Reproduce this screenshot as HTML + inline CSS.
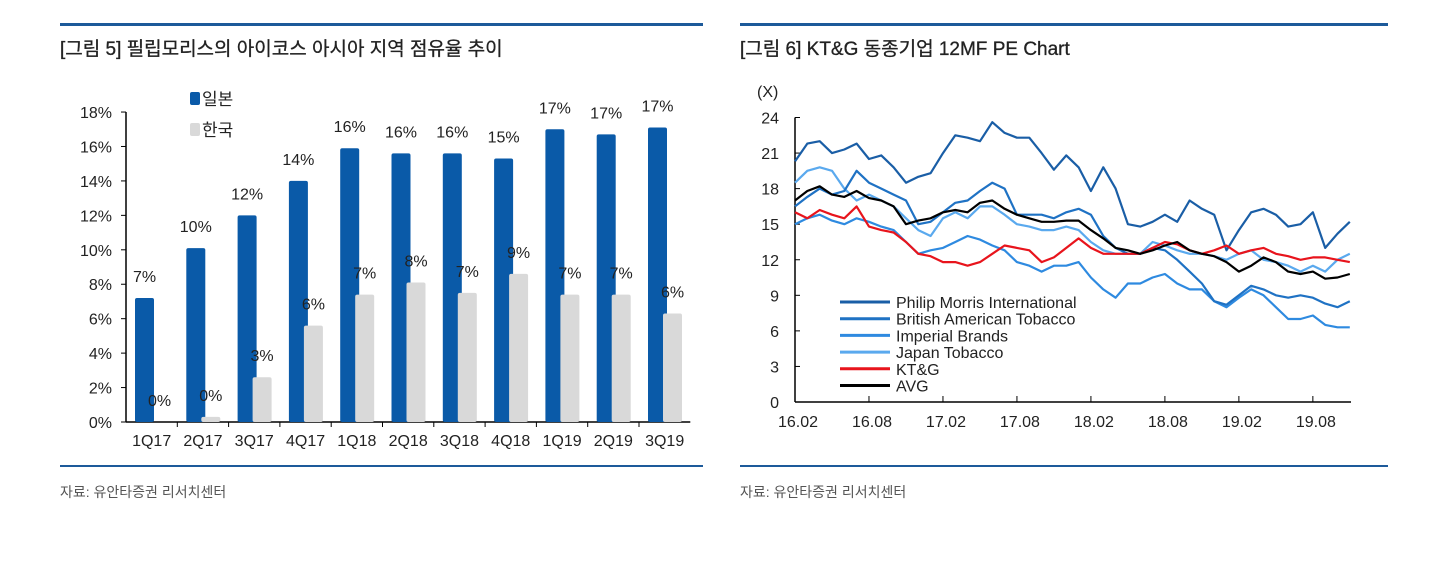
<!DOCTYPE html>
<html><head><meta charset="utf-8">
<style>
body{margin:0;width:1441px;height:574px;background:#fff;overflow:hidden;font-family:"Liberation Sans","Noto Sans CJK KR",sans-serif;}
svg text{font-family:"Liberation Sans","Noto Sans CJK KR",sans-serif;}
</style></head>
<body>
<svg width="1441" height="574" xmlns="http://www.w3.org/2000/svg">
<g>
<rect x="60" y="23" width="643" height="3" fill="#1d5a9a"/>
<text x="60" y="55" font-size="19" fill="#222" stroke="#222" stroke-width="0.3">[그림 5] 필립모리스의 아이코스 아시아 지역 점유율 추이</text>
<rect x="60" y="465" width="643" height="2" fill="#1d5a9a"/>
<text x="60" y="497" font-size="14" fill="#555">자료: 유안타증권 리서치센터</text>
<g id="barchart"></g>
</g>
<g>
<rect x="740" y="23" width="648" height="3" fill="#1d5a9a"/>
<text x="740" y="55" font-size="19" fill="#222" stroke="#222" stroke-width="0.3">[그림 6] KT&amp;G 동종기업 12MF PE Chart</text>
<rect x="740" y="465" width="648" height="2" fill="#1d5a9a"/>
<text x="740" y="497" font-size="14" fill="#555">자료: 유안타증권 리서치센터</text>
<g id="linechart"></g>
</g>
</svg>
<script>
const NS="http://www.w3.org/2000/svg";
function mk(tag,attrs,parent,txt){const e=document.createElementNS(NS,tag);for(const k in attrs)e.setAttribute(k,attrs[k]);if(txt!==undefined)e.textContent=txt;parent.appendChild(e);return e;}

// ---- Bar chart data ----
const barCategories=["1Q17","2Q17","3Q17","4Q17","1Q18","2Q18","3Q18","4Q18","1Q19","2Q19","3Q19"];
const japanShare=[7.2,10.1,12.0,14.0,15.9,15.6,15.6,15.3,17.0,16.7,17.1];
const koreaShare=[0,0.3,2.6,5.6,7.4,8.1,7.5,8.6,7.4,7.4,6.3];
const japanLabels=["7%","10%","12%","14%","16%","16%","16%","15%","17%","17%","17%"];
const koreaLabels=["0%","0%","3%","6%","7%","8%","7%","9%","7%","7%","6%"];
const barTicks=[0,2,4,6,8,10,12,14,16,18];

// ---- Line chart data (monthly, 16.02 .. 19.11) ----
const pmi=[20.3,21.8,22.0,21.0,21.3,21.8,20.5,20.8,19.8,18.5,19.0,19.3,21.0,22.5,22.3,22.0,23.6,22.7,22.3,22.3,21.0,19.6,20.8,19.8,17.8,19.8,18.0,15.0,14.8,15.2,15.8,15.2,17.0,16.3,15.8,12.8,14.5,16.0,16.3,15.8,14.8,15.0,16.0,13.0,14.2,15.2];
const bat=[16.5,17.3,18.0,17.5,17.8,19.5,18.5,18.0,17.5,17.0,15.0,15.2,16.0,16.8,17.0,17.8,18.5,18.0,15.8,15.8,15.8,15.5,16.0,16.3,15.8,14.0,13.0,12.5,12.5,13.0,12.8,12.0,11.0,10.0,8.5,8.2,9.0,9.8,9.5,9.0,8.8,9.0,8.8,8.3,8.0,8.5];
const imperial=[15.0,15.5,15.8,15.3,15.0,15.5,15.2,14.8,14.5,13.5,12.5,12.8,13.0,13.5,14.0,13.7,13.2,12.8,11.8,11.5,11.0,11.5,11.5,11.8,10.5,9.5,8.8,10.0,10.0,10.5,10.8,10.0,9.5,9.5,8.5,8.0,8.8,9.5,9.0,8.0,7.0,7.0,7.3,6.5,6.3,6.3];
const japanTob=[18.5,19.5,19.8,19.5,18.0,17.0,17.5,17.0,16.5,15.5,14.5,14.0,15.5,16.0,15.5,16.5,16.5,15.8,15.0,14.8,14.5,14.5,14.8,14.5,13.5,12.8,12.5,12.5,12.5,13.5,13.2,12.8,12.5,12.5,12.3,12.0,12.5,12.8,12.0,11.8,11.5,11.0,11.5,11.0,12.0,12.5];
const ktg=[16.0,15.5,16.2,15.8,15.5,16.5,14.8,14.5,14.3,13.5,12.5,12.3,11.8,11.8,11.5,11.8,12.5,13.2,13.0,12.8,11.8,12.2,13.0,13.8,13.0,12.5,12.5,12.5,12.5,13.0,13.5,13.3,12.8,12.5,12.8,13.2,12.5,12.8,13.0,12.5,12.3,12.0,12.2,12.2,12.0,11.8];
const avg=[17.0,17.8,18.2,17.5,17.3,17.8,17.2,17.0,16.5,15.0,15.3,15.5,16.0,16.2,16.0,16.8,17.0,16.3,15.8,15.5,15.2,15.2,15.3,15.3,14.5,13.8,13.0,12.8,12.5,12.8,13.2,13.5,12.8,12.5,12.3,11.8,11.0,11.5,12.2,11.8,11.0,10.8,11.0,10.4,10.5,10.8];
const seriesNames=["Philip Morris International","British American Tobacco","Imperial Brands","Japan Tobacco","KT&G","AVG"];
const lineTicks=[0,3,6,9,12,15,18,21,24];
const xTickLabels=["16.02","16.08","17.02","17.08","18.02","18.08","19.02","19.08"];

// ---- Bar chart ----
(function(){
const g=document.getElementById('barchart');
const x0=126,y0=422,catW=51.3,pxPer=17.22;
const yS=v=>y0-v*pxPer;
const ax=mk('line',{x1:x0,y1:yS(18),x2:x0,y2:y0,stroke:'#000','stroke-width':1.5},g);

const xa=mk('line',{x1:x0,y1:y0,x2:x0+catW*barCategories.length,y2:y0,stroke:'#000','stroke-width':1.5},g);

barTicks.forEach(t=>{
 const tk=mk('line',{x1:x0-5,y1:yS(t),x2:x0,y2:yS(t),stroke:'#000'},g);
 
 const tl=mk('text',{x:x0-14,y:yS(t)+6,'font-size':16,'text-anchor':'end',fill:'#222'},g,t+'%');
 
});
barCategories.forEach((c,i)=>{
 const cx=x0+i*catW;
 if(i>0){const tk=mk('line',{x1:cx,y1:y0,x2:cx,y2:y0+5,stroke:'#000'},g);
 }
 const b=mk('rect',{x:cx+9,y:yS(japanShare[i]),width:19,height:japanShare[i]*pxPer,fill:'#0a5aa8',rx:2},g);
 
 const k=mk('rect',{x:cx+24,y:yS(koreaShare[i]),width:19,height:koreaShare[i]*pxPer,fill:'#d9d9d9',rx:2},g);
 
 const l1=mk('text',{x:cx+18.5,y:yS(japanShare[i])-16,'font-size':16,'text-anchor':'middle',fill:'#222'},g,japanLabels[i]);
 
 const l2=mk('text',{x:cx+33.5,y:yS(koreaShare[i])-16,'font-size':16,'text-anchor':'middle',fill:'#222'},g,koreaLabels[i]);
 
 const xl=mk('text',{x:cx+catW/2,y:y0+24,'font-size':16,'text-anchor':'middle',fill:'#222'},g,c);
 
});
const le1=mk('rect',{x:190,y:92,width:10,height:13,fill:'#0a5aa8',rx:2},g);

const lt1=mk('text',{x:202,y:105,'font-size':17,fill:'#222'},g,'일본');

const le2=mk('rect',{x:190,y:123,width:10,height:13,fill:'#d9d9d9',rx:2},g);

const lt2=mk('text',{x:202,y:136,'font-size':17,fill:'#222'},g,'한국');

})();

// ---- Line chart ----
(function(){
const g=document.getElementById('linechart');
const x0=795,y0=402,yTop=117.5,monthPx=12.33;
const yS=v=>y0-v*(y0-yTop)/24;
const xS=i=>x0+i*monthPx;
const xEnd=1351;
const ya=mk('line',{x1:x0,y1:yTop,x2:x0,y2:y0,stroke:'#000','stroke-width':1.5},g);

const xa=mk('line',{x1:x0,y1:y0,x2:xEnd,y2:y0,stroke:'#000','stroke-width':1.5},g);

const un=mk('text',{x:757,y:97,'font-size':16,fill:'#222'},g,'(X)');

lineTicks.forEach(t=>{
 const tk=mk('line',{x1:x0,y1:yS(t),x2:x0+5,y2:yS(t),stroke:'#000'},g);
 
 const tl=mk('text',{x:x0-16,y:yS(t)+6,'font-size':16,'text-anchor':'end',fill:'#222'},g,String(t));
 
});
xTickLabels.forEach((l,k)=>{
 const x=xS(k*6);
 const tk=mk('line',{x1:x,y1:y0,x2:x,y2:y0-6,stroke:'#000'},g);
 
 const tl=mk('text',{x:x+3,y:y0+25,'font-size':16,'text-anchor':'middle',fill:'#222'},g,l);
 
});
const all=[pmi,bat,imperial,japanTob,ktg,avg];
const colors=['#1a5ea6','#1f72c4','#2e8ae0','#5aa9ee','#e8141c','#000'];
const order=[3,2,1,0,4,5];
order.forEach(s=>{
 const d=all[s].map((v,i)=>(i?'L':'M')+xS(i).toFixed(1)+','+yS(v).toFixed(1)).join('');
 const p=mk('path',{d:d,fill:'none',stroke:colors[s],'stroke-width':2.2,'stroke-linejoin':'round'},g);
 
 
});
seriesNames.forEach((n,s)=>{
 const y=302+s*16.7;
 const ll=mk('line',{x1:840,y1:y,x2:890,y2:y,stroke:colors[s],'stroke-width':3},g);
 
 const lt=mk('text',{x:896,y:y+6,'font-size':16,fill:'#222'},g,n);
 
});
})();
</script>
</body></html>
